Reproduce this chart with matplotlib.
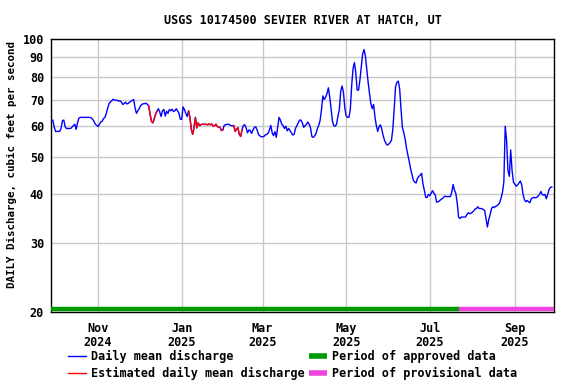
import matplotlib
matplotlib.use("Agg")
import matplotlib.pyplot as plt
from matplotlib.lines import Line2D
import pandas as pd

# daily mean discharge, cfs, starting 2024-09-28
START = "2024-09-28"
flow = [
    62.0, 62.0, 59.5, 58.0, 58.0, 58.0, 58.0, 59.0, 61.8, 62.0,
    59.6, 59.0, 59.0, 59.0, 59.0, 59.5, 60.0, 60.5, 58.7, 61.0,
    62.7, 63.0, 63.0, 63.0, 63.0, 63.0, 63.0, 63.0, 63.0, 62.8,
    62.3, 61.6, 60.5, 60.1, 59.7, 60.5, 61.3, 61.6, 62.6, 63.0,
    64.5, 66.5, 68.3, 69.0, 69.5, 70.1, 69.8, 69.7, 69.7, 69.3,
    69.5, 69.0, 68.0, 68.3, 68.9, 68.2, 68.4, 68.9, 69.3, 69.6,
    70.0, 66.5, 64.5, 65.5, 66.3, 67.5, 68.0, 68.3, 68.3, 68.5,
    68.0, 67.3, 64.0, 61.5, 61.0, 62.5, 64.2, 65.4, 66.3, 65.0,
    63.3, 65.5, 66.0, 63.5, 65.3, 64.5, 66.0, 65.5, 66.1, 65.2,
    65.5, 66.3, 65.5, 64.5, 62.3, 62.3, 67.0, 66.0, 64.5, 63.3,
    65.5, 63.0, 58.7, 57.0, 59.4, 63.0, 59.2, 61.0, 60.0, 60.3,
    60.5, 60.5, 60.4, 60.5, 60.3, 60.6, 60.3, 60.6, 59.8, 60.0,
    60.5, 59.7, 59.4, 59.4, 58.3, 58.5, 60.1, 60.3, 60.5, 60.5,
    60.3, 60.0, 60.0, 60.0, 58.0, 58.8, 59.3, 57.0, 56.3, 58.5,
    60.1, 60.3, 59.2, 57.5, 58.5, 58.3, 57.3, 58.5, 59.4, 59.6,
    58.5, 57.0, 56.5, 56.2, 56.2, 56.3, 56.8, 57.0, 57.3, 58.5,
    60.1, 57.5, 56.6, 57.9, 56.0, 59.4, 63.0, 62.0, 60.5, 60.0,
    59.0, 59.8, 58.2, 59.0, 58.3, 57.5, 56.8, 57.0, 59.0, 60.0,
    61.0, 62.0, 62.0, 61.0, 59.4, 60.0, 60.5, 61.3, 60.5, 59.2,
    56.2, 56.0, 56.5, 57.3, 59.0, 60.1, 62.0, 66.0, 71.5, 70.0,
    71.0, 72.5, 75.0, 71.0, 66.0, 61.5, 60.0, 59.8, 60.5, 63.5,
    66.0, 73.5, 75.8, 73.0, 66.5, 63.5, 63.0, 63.0, 66.0, 76.0,
    84.0, 87.0, 82.0, 74.0, 74.0, 78.5, 84.5, 91.5, 94.0, 90.5,
    83.5, 77.5, 72.5, 68.3, 66.3, 68.0, 63.0, 60.0, 58.0, 59.7,
    60.3, 58.7, 56.5, 55.0, 54.0, 53.5, 53.8, 54.3, 55.0, 58.7,
    66.0, 75.5, 77.5, 78.0, 74.5, 66.0, 59.4, 57.5, 55.5, 52.5,
    50.5, 48.5, 46.5, 45.0, 43.5, 43.0, 42.8, 44.0, 44.5, 44.8,
    45.3, 42.5, 41.0, 39.3, 39.3, 40.0, 39.7, 40.3, 40.9, 40.3,
    39.8, 38.2, 38.3, 38.5, 38.8, 39.0, 39.3, 39.6, 39.5, 39.5,
    39.5, 39.5, 40.5, 42.4, 41.0, 40.2, 38.0, 35.0, 34.7, 35.0,
    35.0, 35.0, 35.0, 35.5, 35.9, 35.7, 35.8, 36.0, 36.3, 36.7,
    36.8, 37.2, 36.8, 36.8, 36.8, 36.6, 36.4, 34.7, 33.0, 34.5,
    35.5, 36.8, 37.2, 37.0, 37.3, 37.4, 37.7, 38.1, 39.2, 40.5,
    43.0, 59.8, 55.0, 46.0, 44.5, 52.0, 46.0, 43.0, 42.5, 42.0,
    42.3, 42.8, 43.3, 42.4, 40.0, 38.8, 38.3, 38.6, 38.3, 38.1,
    39.0, 39.2, 39.3, 39.2, 39.3, 39.6, 40.0, 40.7, 40.0, 39.8,
    40.0, 39.0, 40.0, 41.2, 41.7, 41.8,
]
# estimated-value periods (inclusive)
est_start = ["2024-12-08", "2025-01-06", "2025-02-08"]
est_end = ["2024-12-14", "2025-01-31", "2025-02-14"]
approved_end = "2025-07-22"

yticks = [20, 30, 40, 50, 60, 70, 80, 90, 100]
xticks = ["2024-11-01", "2025-01-01", "2025-03-01", "2025-05-01", "2025-07-01", "2025-09-01"]
xlabels = ["Nov\n2024", "Jan\n2025", "Mar\n2025", "May\n2025", "Jul\n2025", "Sep\n2025"]

BLUE, RED, GREEN, PINK, GRID = "#0000ff", "#ff0000", "#009900", "#ee44dd", "#c8c8c8"
FONT = "DejaVu Sans Mono"
plt.rcParams["font.family"] = FONT
plt.rcParams["font.weight"] = "bold"

s = pd.Series(flow, index=pd.date_range(START, periods=len(flow), freq="D"))
x0 = s.index[0] - pd.Timedelta(hours=8)
x1 = s.index[-1] + pd.Timedelta(hours=38)

fig = plt.figure(figsize=(5.76, 3.84), dpi=100)
ax = fig.add_axes([51 / 576, 1 - 312 / 384, 503 / 576, 273 / 384])
ax.set_yscale("log")
ax.set_ylim(20, 100)
ax.set_xlim(x0, x1)

ax.plot(s.index, s.values, color=BLUE, lw=1.0, zorder=3)
for a, b in zip(est_start, est_end):
    seg = s[a:b]
    ax.plot(seg.index, seg.values, color=RED, lw=1.0, zorder=4)

# approval status bar along the bottom
tr = ax.get_xaxis_transform()
ap = pd.Timestamp(approved_end)
ax.plot([x0, ap], [0.011, 0.011], transform=tr, color=GREEN, lw=3.2,
        solid_capstyle="butt", zorder=5, clip_on=False)
ax.plot([ap, x1], [0.011, 0.011], transform=tr, color=PINK, lw=3.2,
        solid_capstyle="butt", zorder=5, clip_on=False)

ax.set_yticks(yticks)
ax.set_yticklabels([str(v) for v in yticks])
ax.yaxis.set_minor_locator(matplotlib.ticker.NullLocator())
ax.set_xticks([pd.Timestamp(t) for t in xticks])
ax.set_xticklabels(xlabels, linespacing=1.15)
ax.tick_params(axis="both", length=0, labelsize=8.5)
ax.tick_params(axis="x", pad=7)
ax.tick_params(axis="y", pad=5)
ax.grid(True, color=GRID, lw=1.0, zorder=0)
ax.set_axisbelow(True)
for sp in ax.spines.values():
    sp.set_linewidth(1.0)
    sp.set_color("black")

ax.set_title("USGS 10174500 SEVIER RIVER AT HATCH, UT", fontsize=8.5,
             fontweight="bold", pad=11)
fig.text(12 / 576, 1 - 165 / 384, "DAILY Discharge, cubic feet per second",
         rotation=90, ha="center", va="center", fontsize=7.8, fontweight="bold")

handles = [
    Line2D([], [], color=BLUE, lw=1.0),
    Line2D([], [], color=RED, lw=1.0),
    Line2D([], [], color=GREEN, lw=4, solid_capstyle="butt"),
    Line2D([], [], color=PINK, lw=4, solid_capstyle="butt"),
]
labels = ["Daily mean discharge", "Estimated daily mean discharge",
          "Period of approved data", "Period of provisional data"]
fig.legend(handles, labels, ncol=2, loc="upper left",
           bbox_to_anchor=(68 / 576, 1 - 350 / 384), frameon=False,
           prop={"family": FONT, "weight": "bold", "size": 8.5},
           handlelength=1.55, handletextpad=0.4, columnspacing=0.35,
           labelspacing=0.3, borderpad=0, borderaxespad=0)

fig.savefig("out.png", dpi=100)
